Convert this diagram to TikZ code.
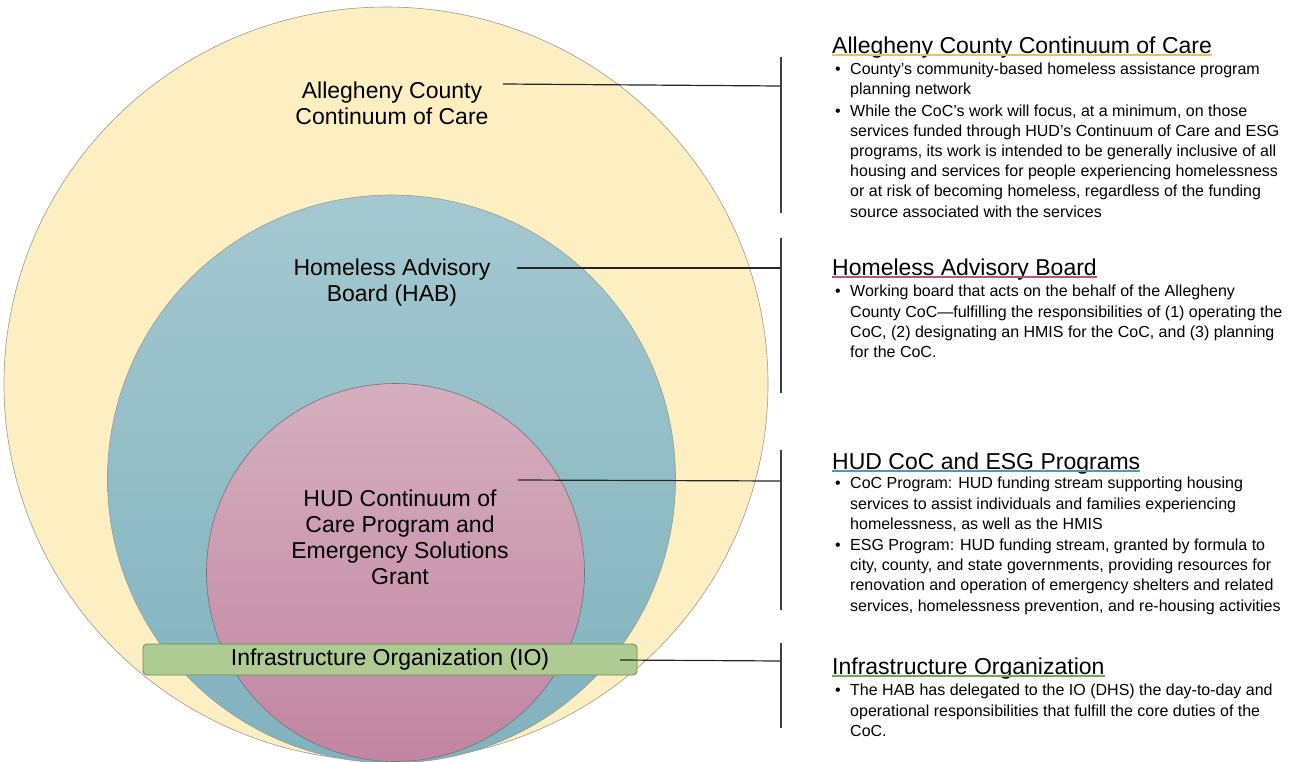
\documentclass[tikz,border=0pt]{standalone}
\usepackage{fontspec}
\setmainfont{Liberation Sans}
\usepackage{tikz}
\usetikzlibrary{calc,positioning,shapes}

\definecolor{accfill}{HTML}{FEEFC3}
\definecolor{habtop}{HTML}{A4C8D0}
\definecolor{habbot}{HTML}{80B2BE}
\definecolor{hudtop}{HTML}{D5AFBE}
\definecolor{hudbot}{HTML}{C285A2}
\definecolor{iofill}{HTML}{AECB93}
\definecolor{ioline}{HTML}{6A8B4E}
\definecolor{ulacc}{HTML}{F2C14E}
\definecolor{ulhab}{HTML}{B5567F}
\definecolor{ulhud}{HTML}{4A9DB1}
\definecolor{ulio}{HTML}{70AD47}

\newcommand{\bitem}{\makebox[15pt][l]{\textbullet}}
\newcommand{\bcont}{\hspace*{15pt}}

\begin{document}
\begin{tikzpicture}[x=1pt,y=-1pt,
	ring/.style={draw=black!40,line width=0.6pt},
	lbl/.style={font=\fontsize{23}{26}\selectfont,align=center,inner sep=0},
	ttl/.style={font=\fontsize{23}{26}\selectfont,anchor=base west,inner sep=0},
	body/.style={font=\fontsize{16}{20.2}\selectfont,align=left,anchor=north west,inner sep=0},
	link/.style={line width=1.2pt,black!85},
	bar/.style={line width=1.6pt,black!75},
	uline/.style={line width=1.4pt}]
	\useasboundingbox (0,0) rectangle (1293,761);
	\fill[white] (0,0) rectangle (1293,761);

	\filldraw[ring,fill=accfill] (386,384) ellipse (382 and 377);
	\shade[top color=habtop,bottom color=habbot] (391.5,479) circle (284);
	\draw[ring] (391.5,479) circle (284);
	\shade[top color=hudtop,bottom color=hudbot] (395.5,572.5) circle (189);
	\draw[ring,draw=black!55] (395.5,572.5) circle (189);

	\node[lbl] (acc) at (392,103) {Allegheny County\\Continuum of Care};
	\node[lbl] (hab) at (392,283) {Homeless Advisory\\Board (HAB)};
	\node[lbl] (hud) at (400,537) {HUD Continuum of\\Care Program and\\Emergency Solutions\\Grant};
	\node[draw=ioline,fill=iofill,rounded corners=4pt,line width=0.8pt,minimum width=494pt,minimum height=31pt,font=\fontsize{23}{26}\selectfont,inner sep=0] (io) at (390,659.5) {Infrastructure Organization (IO)};

	\coordinate (accin) at (503,84);
	\coordinate (habin) at (517,268);
	\coordinate (hudin) at (518,480);
	\coordinate (ioin) at (620,660);
	\coordinate (accout) at (781,86);
	\coordinate (habout) at (781,268);
	\coordinate (hudout) at (781,481);
	\coordinate (ioout) at (781,661);

	\draw[link] (accin) -- (accout);
	\draw[link] (habin) -- (habout);
	\draw[link] (hudin) -- (hudout);
	\draw[link] (ioin) -- (ioout);

	\draw[bar] (781,57) -- (781,213);
	\draw[bar] (781,238) -- (781,393);
	\draw[bar] (781,450) -- (781,610);
	\draw[bar] (781,643) -- (781,728);

	\node[ttl] (taacc) at (832,53) {Allegheny County Continuum of Care};
	\node[ttl] (tahab) at (832,275) {Homeless Advisory Board};
	\node[ttl] (tahud) at (832,469) {HUD CoC and ESG Programs};
	\node[ttl] (taio) at (832,674) {Infrastructure Organization};
	\draw[uline,ulacc] ([yshift=-2pt]taacc.base west) -- ([yshift=-2pt]taacc.base east);
	\draw[uline,ulhab] ([yshift=-2pt]tahab.base west) -- ([yshift=-2pt]tahab.base east);
	\draw[uline,ulhud] ([yshift=-2pt]tahud.base west) -- ([yshift=-2pt]tahud.base east);
	\draw[uline,ulio] ([yshift=-2pt]taio.base west) -- ([yshift=-2pt]taio.base east);

	\node[body] (bacc) at (835,63) {\bitem County’s community-based homeless assistance program\\
		\bcont planning network\\[1pt]
		\bitem While the CoC’s work will focus, at a minimum, on those\\
		\bcont services funded through HUD’s Continuum of Care and ESG\\
		\bcont programs, its work is intended to be generally inclusive of all\\
		\bcont housing and services for people experiencing homelessness\\
		\bcont or at risk of becoming homeless, regardless of the funding\\
		\bcont source associated with the services};
	\node[body] (bhab) at (835,285) {\bitem Working board that acts on the behalf of the Allegheny\\
		\bcont County CoC—fulfilling the responsibilities of (1) operating the\\
		\bcont CoC, (2) designating an HMIS for the CoC, and (3) planning\\
		\bcont for the CoC.};
	\node[body] (bhud) at (835,477) {\bitem CoC Program: HUD funding stream supporting housing\\
		\bcont services to assist individuals and families experiencing\\
		\bcont homelessness, as well as the HMIS\\[1pt]
		\bitem ESG Program: HUD funding stream, granted by formula to\\
		\bcont city, county, and state governments, providing resources for\\
		\bcont renovation and operation of emergency shelters and related\\
		\bcont services, homelessness prevention, and re-housing activities};
	\node[body] (bio) at (835,684) {\bitem The HAB has delegated to the IO (DHS) the day-to-day and\\
		\bcont operational responsibilities that fulfill the core duties of the\\
		\bcont CoC.};
\end{tikzpicture}
\end{document}
